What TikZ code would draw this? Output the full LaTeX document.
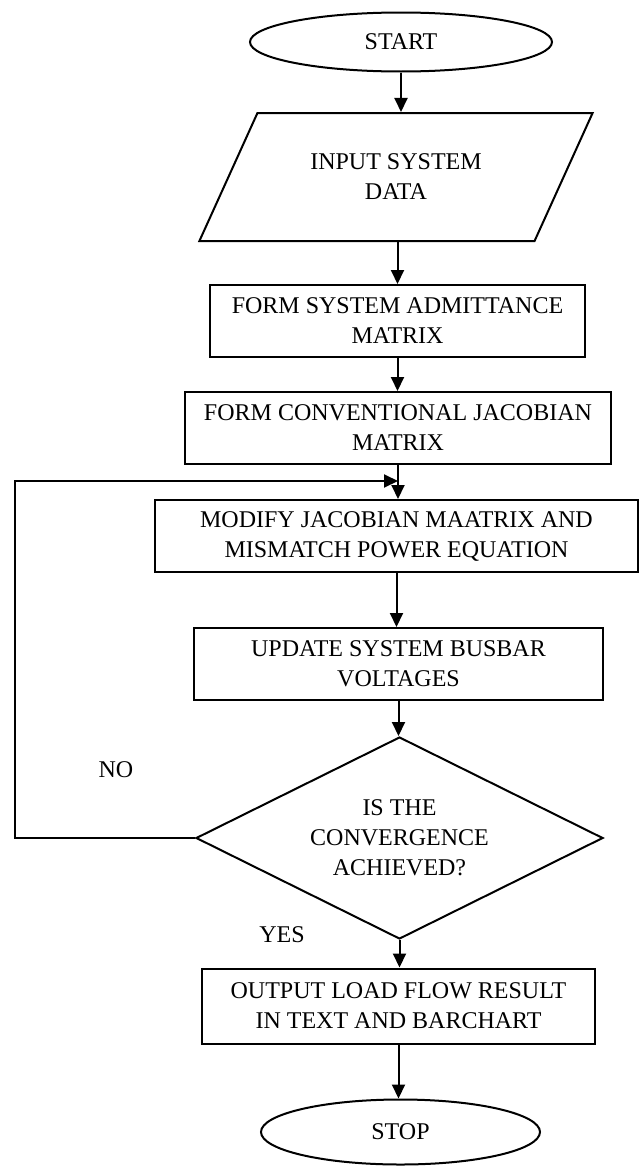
\documentclass[tikz,border=0pt]{standalone}
\usepackage{fontspec}
\setmainfont{Liberation Serif}
\usetikzlibrary{shapes.geometric,arrows.meta}

\tikzset{every picture/.style={line width=2pt}}
\tikzset{
	flowbox/.style={draw, rectangle, align=center, inner sep=0pt},
	terminal/.style={draw, ellipse, inner sep=0pt},
	inbox/.style={draw, trapezium, trapezium left angle=52, trapezium right angle=128, trapezium stretches=true, align=center, inner sep=0pt},
	decision/.style={draw, diamond, aspect=2, align=center, inner sep=0pt},
	flowarrow/.style={-{Triangle[width=13pt,length=14pt]}}}

\begin{document}
\begin{tikzpicture}[x=1pt,y=1pt,yscale=-1,xscale=1,font=\fontsize{24}{30}\selectfont]
	\useasboundingbox (0,0) rectangle (639,1167);

	%Shape: Ellipse [start]
	\node[terminal, minimum width=302pt, minimum height=59pt] (start) at (401,42) {START};
	%Shape: Parallelogram [input]
	\node[inbox, minimum width=394pt, minimum height=128pt] (input) at (396,177) {INPUT SYSTEM\\DATA};
	%Shape: Rectangle [admittance]
	\node[flowbox, minimum width=375pt, minimum height=72pt] (admit) at (397.5,321) {FORM SYSTEM ADMITTANCE\\MATRIX};
	%Shape: Rectangle [jacobian]
	\node[flowbox, minimum width=426pt, minimum height=72pt] (jacob) at (398,428) {FORM CONVENTIONAL JACOBIAN\\MATRIX};
	%Shape: Rectangle [modify]
	\node[flowbox, minimum width=483pt, minimum height=72pt] (modify) at (396.5,536) {MODIFY JACOBIAN MAATRIX AND\\MISMATCH POWER EQUATION};
	%Shape: Rectangle [update]
	\node[flowbox, minimum width=409pt, minimum height=72pt] (update) at (398.5,664) {UPDATE SYSTEM BUSBAR\\VOLTAGES};
	%Shape: Diamond [converged]
	\node[decision, minimum width=407pt, minimum height=202pt] (conv) at (399.5,838) {IS THE\\CONVERGENCE\\ACHIEVED?};
	%Shape: Rectangle [output]
	\node[flowbox, minimum width=393pt, minimum height=75pt] (output) at (398.5,1006) {OUTPUT LOAD FLOW RESULT\\IN TEXT AND BARCHART};
	%Shape: Ellipse [stop]
	\node[terminal, minimum width=279pt, minimum height=65pt] (stop) at (400.5,1132) {STOP};

	% Text Node
	\node (nolabel) at (116,770) {NO};
	% Text Node
	\node (yeslabel) at (282,935) {YES};

	%Straight Lines [arrows]
	\draw[flowarrow] (start.south) -- (start.south |- input.north);
	\draw[flowarrow] (admit.north |- input.south) -- (admit.north);
	\draw[flowarrow] (admit.south) -- (admit.south |- jacob.north);
	\draw[flowarrow] (jacob.south) -- (jacob.south |- modify.north);
	\draw[flowarrow] (modify.south) -- (modify.south |- update.north);
	\draw[flowarrow] (update.south) -- (update.south |- conv.north);
	\draw[flowarrow] (conv.south) -- (conv.south |- output.north);
	\draw[flowarrow] (output.south) -- (output.south |- stop.north);

	%Connector: back loop [no]
	\coordinate (loopcorner) at (15,838);
	\coordinate (loopjoin) at (398,481);
	\draw[flowarrow] (conv.west) -- (loopcorner) |- (loopjoin);

\end{tikzpicture}
\end{document}
